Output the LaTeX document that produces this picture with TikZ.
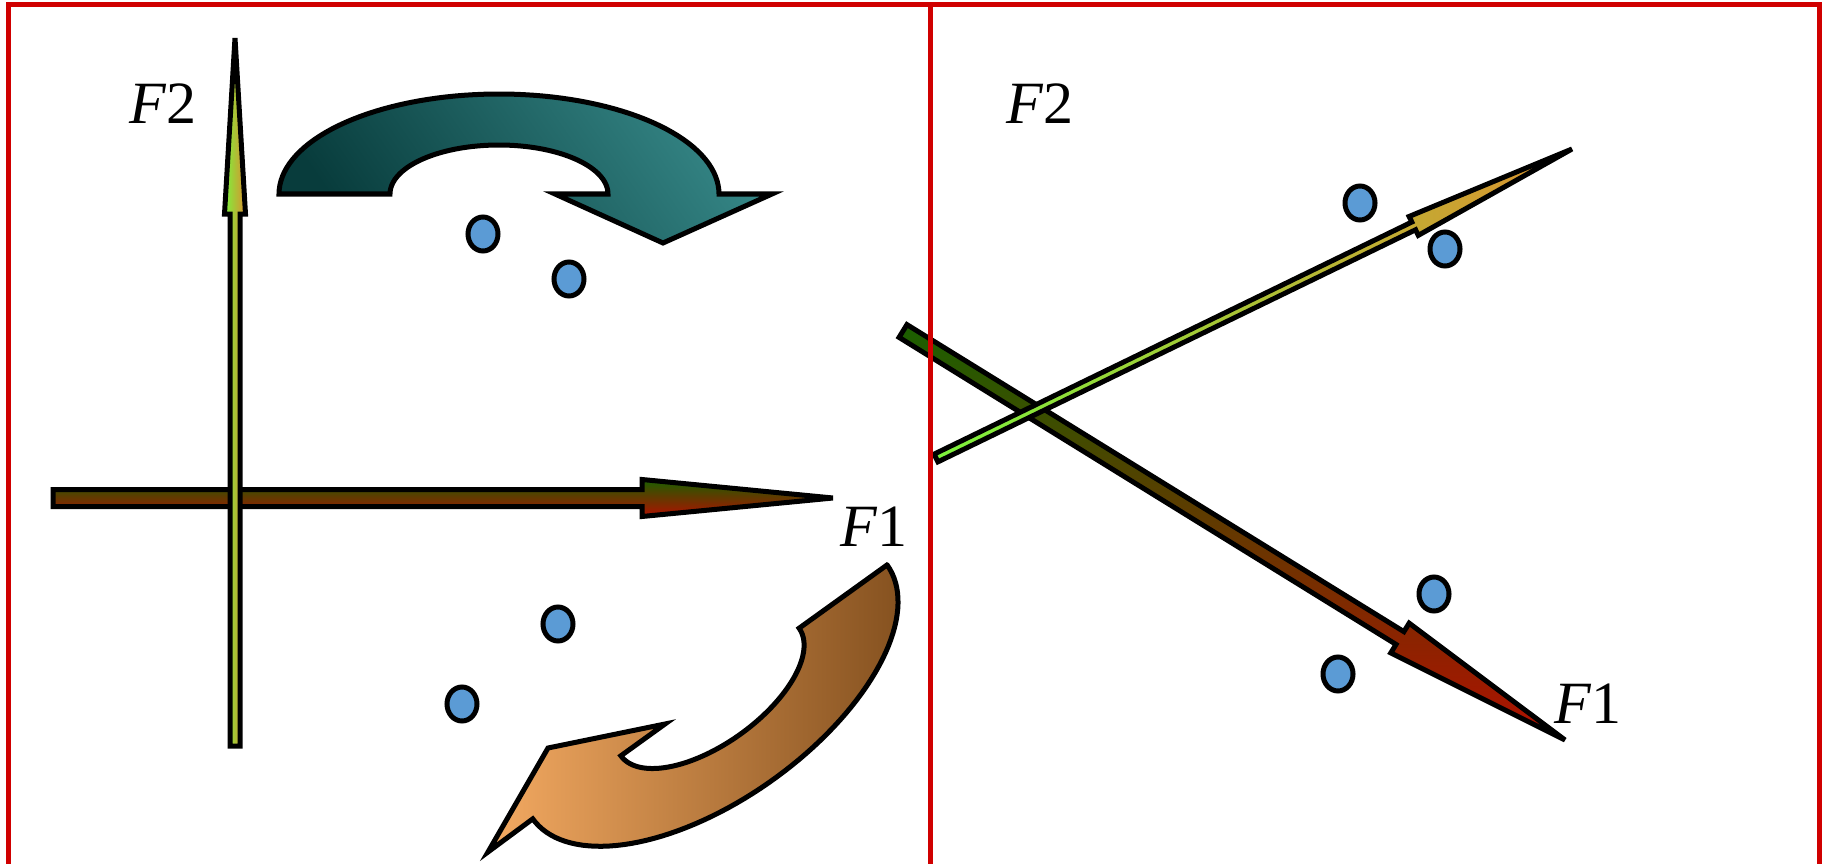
\documentclass[tikz,border=0pt]{standalone}
\usepackage{fontspec}
\setmainfont{Liberation Serif}
\usetikzlibrary{calc,shapes.geometric}
\definecolor{frameRed}{HTML}{D00000}
\definecolor{dotBlue}{HTML}{5B9BD5}
\definecolor{fOneTop}{HTML}{1A6000}
\definecolor{fOneBot}{HTML}{B01000}
\definecolor{fTwoLeft}{HTML}{7CF23C}
\definecolor{fTwoRight}{HTML}{DC902F}
\definecolor{tealDark}{HTML}{083C3C}
\definecolor{tealLight}{HTML}{358686}
\definecolor{orLight}{HTML}{F4AA62}
\definecolor{orDark}{HTML}{865220}
\newcommand{\fArrow}[5]{%
  \coordinate (#1b) at ($(#1p)!#3pt!(#1t)$);
  \draw[#2] ($(#1t)!#4pt!90:(#1p)$) -- ($(#1b)!#4pt!90:(#1p)$) -- ($(#1b)!#5pt!90:(#1p)$)
    -- (#1p) -- ($(#1b)!#5pt!-90:(#1p)$) -- ($(#1b)!#4pt!-90:(#1p)$) -- ($(#1t)!#4pt!-90:(#1p)$) -- cycle;}
\begin{document}
\begin{tikzpicture}[x=1pt,y=-1pt,
  outl/.style={draw=black,line width=5pt,line join=miter},
  fonestyle/.style={outl,top color=fOneTop,bottom color=fOneBot},
  ftwostyle/.style={outl,left color=fTwoLeft,right color=fTwoRight},
  tealstyle/.style={outl,bottom color=tealDark,top color=tealLight,shading angle=-55},
  orstyle/.style={outl,left color=orLight,right color=orDark},
  dot/.style={ellipse,draw=black,line width=5pt,fill=dotBlue,minimum width=30pt,minimum height=34pt,inner sep=0pt},
  lbl/.style={inner sep=0pt,font=\fontsize{60}{72}\selectfont},
  frame/.style={draw=frameRed,line width=5pt,line join=miter}]
\useasboundingbox (0,0) rectangle (1824,864);
% ---- left panel ----
\coordinate (lFonet) at (53,498); \coordinate (lFonep) at (833,498);
\fArrow{lFone}{fonestyle}{191}{8.5}{18.5}
\coordinate (lFtwot) at (235,746); \coordinate (lFtwop) at (235,38);
\fArrow{lFtwo}{ftwostyle}{176}{5}{10.5}
\draw[tealstyle] (279,194) -- plot[domain=180:360,samples=72] ({499+220*cos(\x)},{194+100*sin(\x)})
  -- (772,194) -- (663,243) -- (555,194)
  -- plot[domain=360:180,samples=72] ({499+109*cos(\x)},{194+49*sin(\x)}) -- cycle;
\draw[orstyle] (887,565)
  -- plot[domain=180:0,samples=72] ({710-0.813*218*cos(\x)+0.582*108*sin(\x)},{692+0.582*218*cos(\x)+0.813*108*sin(\x)})
  -- (488,852) -- (548,748) -- (665,724)
  -- plot[domain=0:180,samples=72] ({710-0.813*109.6*cos(\x)+0.582*52*sin(\x)},{692+0.582*109.6*cos(\x)+0.813*52*sin(\x)})
  -- cycle;
\node[dot] (d1) at (483,234) {};
\node[dot] (d2) at (569,279) {};
\node[dot] (d3) at (558,624) {};
\node[dot] (d4) at (462,704) {};
\node[lbl] (lF2) at (163,104) {\textit{F}2};
\node[lbl] (lF1) at (874,527) {\textit{F}1};
% ---- right panel ----
\coordinate (rFonet) at (903,331); \coordinate (rFonep) at (1565,740);
\fArrow{rFone}{fonestyle}{194}{7.5}{17.5}
\coordinate (rFtwot) at (936,458); \coordinate (rFtwop) at (1572,149);
\fArrow{rFtwo}{ftwostyle}{176}{4.3}{10.5}
\node[dot] (d5) at (1360,203) {};
\node[dot] (d6) at (1445,249) {};
\node[dot] (d7) at (1434,594) {};
\node[dot] (d8) at (1338,674) {};
\node[lbl] (rF2) at (1040,104) {\textit{F}2};
\node[lbl] (rF1) at (1588,704) {\textit{F}1};
% ---- frame ----
\draw[frame] (8,880) -- (8,5) -- (1819,5) -- (1819,880);
\draw[frame] (930,5) -- (930,880);
\end{tikzpicture}
\end{document}
